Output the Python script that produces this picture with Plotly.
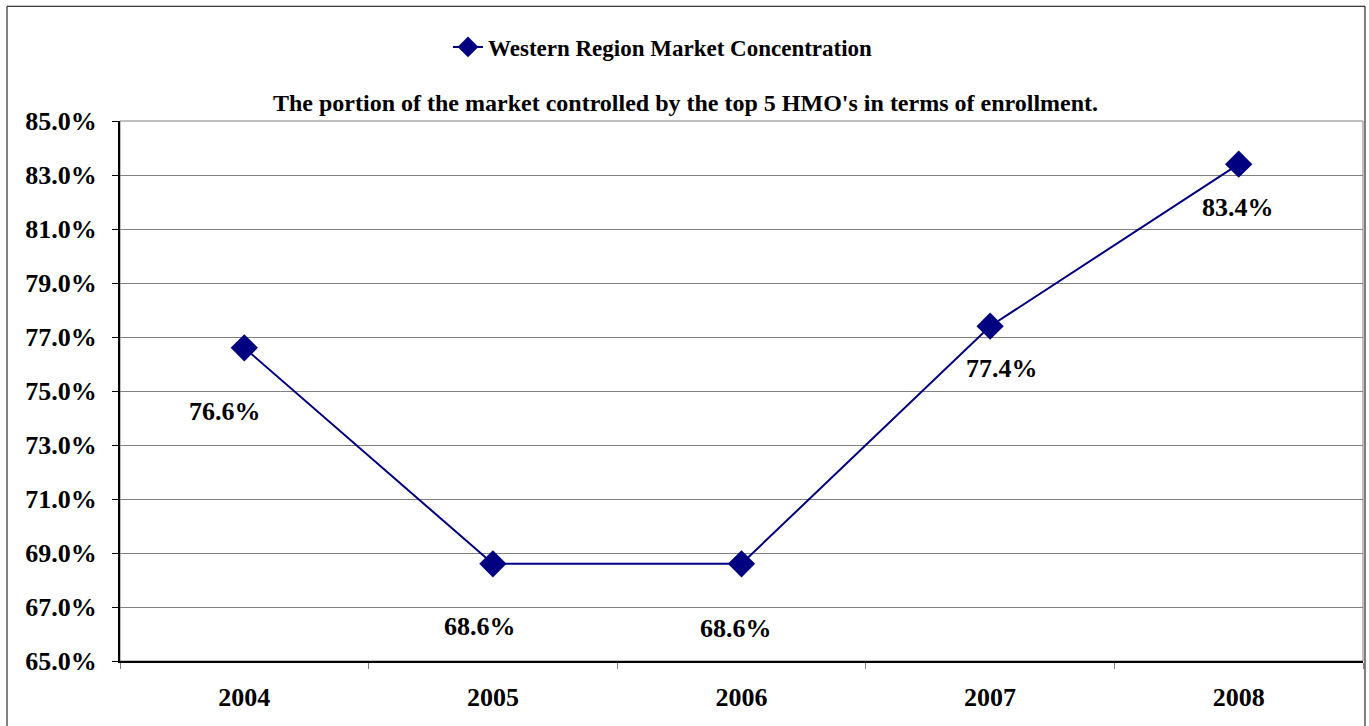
import plotly.graph_objects as go

# Western Region market concentration (share held by the top 5 HMOs)
years = ["2004", "2005", "2006", "2007", "2008"]
share_pct = [76.6, 68.6, 68.6, 77.4, 83.4]
y_ticks = [65.0, 67.0, 69.0, 71.0, 73.0, 75.0, 77.0, 79.0, 81.0, 83.0, 85.0]

# label placement (pixel offsets from each point)
label_dx = [-19, -13, -6, 12, -1]
label_dy = [-64, -63, -65, -42, -43]

FONT = "Liberation Serif, Times New Roman, serif"
NAVY = "#000080"

fig = go.Figure()
fig.add_trace(go.Scatter(
    x=years, y=share_pct, mode="lines+markers",
    name="<b>Western Region Market Concentration</b>",
    line=dict(color=NAVY, width=2),
    marker=dict(symbol="diamond", size=21, color=NAVY),
))

for i, (v, dx, dy) in enumerate(zip(share_pct, label_dx, label_dy)):
    fig.add_annotation(x=i, y=v, text=f"<b>{v:.1f}%</b>", showarrow=False,
                       xshift=dx, yshift=dy,
                       font=dict(family=FONT, size=26, color="black"))

fig.add_annotation(xref="paper", yref="paper", x=0.455, y=1.033, yanchor="middle",
                   text="<b>The portion of the market controlled by the top 5 HMO's in terms of enrollment.</b>",
                   showarrow=False, font=dict(family=FONT, size=24, color="black"))

# gray frame of the plot area
fig.add_shape(type="rect", xref="paper", yref="paper", x0=0, x1=1, y0=0, y1=1,
              line=dict(color="#808080", width=1), layer="below")
# outer chart border
fig.add_shape(type="rect", xref="paper", yref="paper", x0=-0.0909, x1=1.0016,
              y0=-0.25, y1=1.2125, line=dict(color="black", width=1))

fig.update_layout(
    width=1369, height=726,
    margin=dict(l=120, r=6, t=121, b=65, autoexpand=False),
    paper_bgcolor="white", plot_bgcolor="white",
    showlegend=True,
    legend=dict(orientation="h", xref="container", yref="container",
                x=448 / 1369, xanchor="left", y=1 - 47 / 726, yanchor="middle",
                font=dict(family=FONT, size=23, color="black"), bgcolor="rgba(0,0,0,0)"),
    xaxis=dict(type="category", range=[-0.5, 4.5], tickson="boundaries",
               ticks="outside", ticklen=6, tickcolor="#808080",
               showline=True, linecolor="black", linewidth=2,
               showgrid=False, automargin=False, ticklabelstandoff=12,
               tickfont=dict(family=FONT, size=26, color="black"),
               tickprefix="<b>", ticksuffix="</b>"),
    yaxis=dict(range=[65, 85], tickvals=y_ticks,
               ticktext=[f"<b>{t:.1f}%</b>" for t in y_ticks],
               ticks="outside", ticklen=6, tickcolor="black",
               showline=True, linecolor="black", linewidth=2,
               showgrid=True, gridcolor="#808080", gridwidth=1,
               zeroline=False, automargin=False, ticklabelstandoff=10,
               tickfont=dict(family=FONT, size=26, color="black")),
)

fig.write_html("out.html")
